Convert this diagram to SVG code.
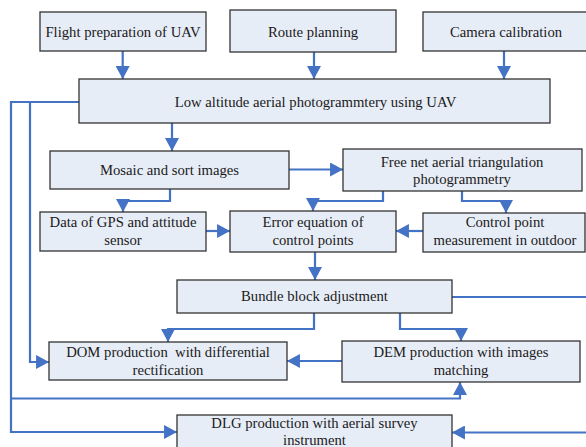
<svg xmlns="http://www.w3.org/2000/svg" width="586" height="447" viewBox="0 0 586 447">
<style>
.box{fill:#E7EDF7;stroke:#333;stroke-width:1.3}
.t{font-family:"Liberation Serif","Times New Roman",serif;font-size:14.7px;fill:#1a1a1a;text-anchor:middle}
.c{fill:none;stroke:#4472C4;stroke-width:2.2}
</style>
<defs>
<marker id="a" markerUnits="userSpaceOnUse" markerWidth="14" markerHeight="14" viewBox="0 0 12 13" refX="12" refY="6.5" orient="auto">
<path d="M0,0 L12,6.5 L0,13 Z" fill="#4472C4"/>
</marker>
</defs>
<rect width="586" height="447" fill="#fff"/>
<g id="connectors">
<path class="c" d="M122.7,51 V79" marker-end="url(#a)"/>
<path class="c" d="M314,52 V79" marker-end="url(#a)"/>
<path class="c" d="M504,51 V79" marker-end="url(#a)"/>
<path class="c" d="M172,123 V151" marker-end="url(#a)"/>
<path class="c" d="M170,189 V201 H123 V212" marker-end="url(#a)"/>
<path class="c" d="M289,169.5 H343" marker-end="url(#a)"/>
<path class="c" d="M383,191 V201 H313 V211" marker-end="url(#a)"/>
<path class="c" d="M462,191 V201 H506 V213" marker-end="url(#a)"/>
<path class="c" d="M206,231 H230" marker-end="url(#a)"/>
<path class="c" d="M423,231 H396" marker-end="url(#a)"/>
<path class="c" d="M315,252 V280" marker-end="url(#a)"/>
<path class="c" d="M314,313 V329 H168 V342" marker-end="url(#a)"/>
<path class="c" d="M400,313 V329 H461 V341" marker-end="url(#a)"/>
<path class="c" d="M342,361 H287" marker-end="url(#a)"/>
<path class="c" d="M79,102 H30 V362 H49" marker-end="url(#a)"/>
<path class="c" d="M30,102 H11 V432 H177" marker-end="url(#a)"/>
<path class="c" d="M11,398.5 H460 V382" marker-end="url(#a)"/>
<path class="c" d="M452,297 H587"/>
<path class="c" d="M587,432.5 H452" marker-end="url(#a)"/>
</g>
<g id="flight"><rect class="box" x="40" y="12" width="166" height="39"/><text class="t" x="123" y="36.5">Flight preparation of UAV</text></g>
<g id="route"><rect class="box" x="230" y="10" width="166" height="42"/><text class="t" x="313" y="36.5">Route planning</text></g>
<g id="camera"><rect class="box" x="423" y="12" width="170" height="39"/><text class="t" x="506" y="36.5">Camera calibration</text></g>
<g id="low"><rect class="box" x="79" y="79" width="471" height="44"/><text class="t" x="315.5" y="106.5">Low altitude aerial photogrammtery using UAV</text></g>
<g id="mosaic"><rect class="box" x="50" y="151" width="239" height="38"/><text class="t" x="169.5" y="174.5">Mosaic and sort images</text></g>
<g id="freenet"><rect class="box" x="343" y="149" width="239" height="42"/><text class="t" x="462" y="166.5">Free net aerial triangulation</text><text class="t" x="462" y="184">photogrammetry</text></g>
<g id="gps"><rect class="box" x="40" y="212" width="166" height="39"/><text class="t" x="123" y="227">Data of GPS and attitude</text><text class="t" x="123" y="245">sensor</text></g>
<g id="error"><rect class="box" x="230" y="211" width="166" height="41"/><text class="t" x="313" y="227">Error equation of</text><text class="t" x="313" y="245">control points</text></g>
<g id="control"><rect class="box" x="423" y="213" width="162" height="39"/><text class="t" x="505" y="227">Control point</text><text class="t" x="505" y="245">measurement in outdoor</text></g>
<g id="bundle"><rect class="box" x="177" y="280" width="275" height="33"/><text class="t" x="314.5" y="301">Bundle block adjustment</text></g>
<g id="dom"><rect class="box" x="49" y="342" width="238" height="38"/><text class="t" x="168" y="357" xml:space="preserve">DOM production  with differential</text><text class="t" x="168" y="375">rectification</text></g>
<g id="dem"><rect class="box" x="342" y="341" width="238" height="41"/><text class="t" x="461" y="357">DEM production with images</text><text class="t" x="461" y="375">matching</text></g>
<g id="dlg"><rect class="box" x="177" y="415" width="275" height="40"/><text class="t" x="314.5" y="428">DLG production with aerial survey</text><text class="t" x="314.5" y="445">instrument</text></g>
</svg>
